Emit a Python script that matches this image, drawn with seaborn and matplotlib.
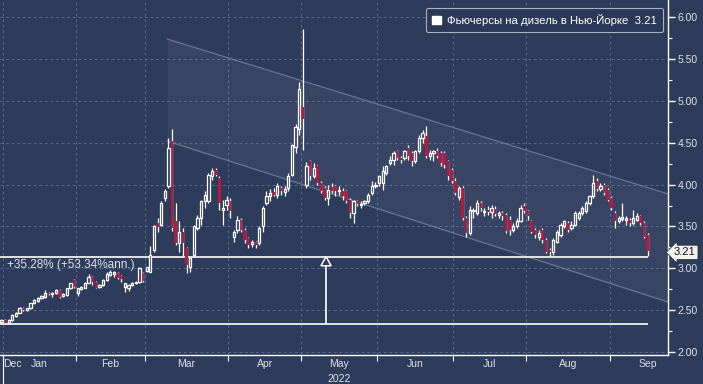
import numpy as np
import pandas as pd
import matplotlib
matplotlib.use("Agg")
import matplotlib.pyplot as plt
import matplotlib.transforms as mtrans
from matplotlib.patches import Patch
import seaborn as sns

# ---------------- data ----------------
holidays = ["2022-01-17", "2022-02-21", "2022-04-15", "2022-05-30",
            "2022-06-20", "2022-07-04", "2022-09-05"]
first_day = "2021-12-31"
last_day = "2022-09-16"

opens = [2.36,
         2.38, 2.34, 2.38, 2.43, 2.47, 2.53, 2.50, 2.52, 2.58, 2.61, 2.64, 2.66, 2.71, 2.69, 2.70, 2.74, 2.67, 2.68, 2.76, 2.86,
         2.70, 2.75, 2.77, 2.83, 2.90, 2.84, 2.78, 2.80, 2.86, 2.92, 2.93, 2.94, 2.91, 2.78, 2.77, 2.80, 2.82, 2.84, 2.94,
         2.97, 2.96, 3.22, 3.54, 3.52, 3.84, 3.98, 4.52, 3.56, 3.30, 3.44, 3.24, 3.02, 3.16, 3.48, 3.60, 3.80, 3.80, 4.10, 4.17, 4.08, 3.70, 3.76,
         3.80, 3.38, 3.46, 3.58, 3.46, 3.36, 3.29, 3.31, 3.30, 3.50, 3.78, 3.86, 3.91, 3.88, 3.96, 3.91, 3.96, 4.12, 4.45, 4.67,
         4.93, 4.00, 4.28, 4.10, 4.22, 4.02, 3.96, 3.84, 3.97, 3.98, 3.92, 3.92, 3.92, 3.82, 3.66, 3.80, 3.76, 3.78, 3.80, 3.90, 3.98,
         4.02, 4.02, 4.14, 4.26, 4.30, 4.40, 4.32, 4.32, 4.44, 4.38, 4.28, 4.40, 4.56, 4.58, 4.34, 4.38, 4.40, 4.38, 4.38, 4.28, 4.18,
         4.05, 3.85, 3.96, 3.60, 3.42, 3.68, 3.66, 3.78, 3.67, 3.70, 3.67, 3.71, 3.64, 3.66, 3.64, 3.58, 3.46, 3.51, 3.57, 3.74,
         3.68, 3.56, 3.46, 3.38, 3.46, 3.34, 3.22, 3.20, 3.32, 3.40, 3.50, 3.54, 3.48, 3.52, 3.60, 3.66, 3.68, 3.78, 3.86, 4.04, 3.95, 4.00, 3.94,
         3.84, 3.66, 3.56, 3.59, 3.58, 3.58, 3.54, 3.58, 3.62, 3.54, 3.40]
highs = [2.39,
         2.39, 2.39, 2.45, 2.48, 2.54, 2.54, 2.53, 2.59, 2.63, 2.66, 2.68, 2.74, 2.72, 2.72, 2.75, 2.75, 2.70, 2.77, 2.83, 2.87,
         2.77, 2.79, 2.84, 2.93, 2.91, 2.85, 2.81, 2.87, 2.95, 2.98, 2.97, 2.95, 2.92, 2.83, 2.81, 2.84, 2.85, 3.01, 2.95,
         3.02, 3.27, 3.52, 3.60, 3.80, 3.95, 4.56, 4.67, 3.78, 3.56, 3.48, 3.26, 3.14, 3.52, 3.64, 3.82, 3.92, 4.14, 4.20, 4.20, 4.10, 3.82, 3.86,
         3.84, 3.46, 3.62, 3.60, 3.48, 3.38, 3.34, 3.33, 3.50, 3.74, 3.92, 3.95, 3.96, 4.02, 3.98, 3.98, 4.14, 4.49, 4.72, 5.23,
         5.86, 4.27, 4.30, 4.26, 4.24, 4.04, 3.98, 4.00, 4.02, 4.00, 3.98, 3.96, 3.94, 3.84, 3.82, 3.82, 3.80, 3.82, 3.90, 4.04, 4.03,
         4.12, 4.22, 4.24, 4.34, 4.40, 4.42, 4.34, 4.42, 4.48, 4.40, 4.42, 4.60, 4.66, 4.70, 4.42, 4.42, 4.44, 4.40, 4.40, 4.30, 4.20,
         4.08, 3.98, 3.98, 3.62, 3.74, 3.72, 3.82, 3.80, 3.72, 3.74, 3.76, 3.74, 3.68, 3.68, 3.66, 3.62, 3.54, 3.60, 3.76, 3.78,
         3.70, 3.58, 3.48, 3.46, 3.48, 3.36, 3.24, 3.36, 3.46, 3.54, 3.58, 3.57, 3.56, 3.68, 3.68, 3.74, 3.80, 3.88, 4.12, 4.08, 4.02, 4.02, 3.96,
         3.86, 3.68, 3.62, 3.78, 3.62, 3.60, 3.70, 3.66, 3.64, 3.56, 3.42]
lows = [2.34,
        2.33, 2.33, 2.37, 2.42, 2.46, 2.49, 2.49, 2.51, 2.57, 2.60, 2.63, 2.65, 2.68, 2.66, 2.69, 2.65, 2.66, 2.67, 2.75, 2.76,
        2.67, 2.74, 2.76, 2.82, 2.80, 2.76, 2.77, 2.79, 2.85, 2.91, 2.90, 2.87, 2.84, 2.72, 2.73, 2.79, 2.81, 2.83, 2.84,
        2.95, 2.95, 3.20, 3.44, 3.50, 3.80, 3.96, 3.45, 3.28, 3.20, 3.15, 2.94, 2.96, 3.14, 3.46, 3.52, 3.72, 3.78, 4.06, 4.10, 3.70, 3.52, 3.70,
        3.60, 3.32, 3.42, 3.44, 3.30, 3.24, 3.26, 3.24, 3.28, 3.44, 3.76, 3.80, 3.86, 3.84, 3.88, 3.86, 3.92, 4.10, 4.38, 4.60,
        4.42, 3.96, 4.06, 4.08, 4.00, 3.90, 3.82, 3.76, 3.90, 3.86, 3.88, 3.82, 3.78, 3.60, 3.54, 3.74, 3.72, 3.76, 3.78, 3.88, 3.96,
        3.98, 3.94, 4.12, 4.24, 4.24, 4.30, 4.26, 4.30, 4.30, 4.22, 4.26, 4.38, 4.50, 4.32, 4.30, 4.28, 4.32, 4.22, 4.20, 4.06, 4.02,
        3.88, 3.82, 3.58, 3.38, 3.40, 3.60, 3.64, 3.68, 3.62, 3.64, 3.60, 3.62, 3.60, 3.58, 3.42, 3.40, 3.44, 3.48, 3.55, 3.66,
        3.58, 3.42, 3.36, 3.34, 3.30, 3.18, 3.15, 3.16, 3.30, 3.38, 3.48, 3.44, 3.46, 3.50, 3.58, 3.64, 3.66, 3.76, 3.84, 3.93, 3.92, 3.88, 3.80,
        3.70, 3.48, 3.54, 3.56, 3.52, 3.50, 3.52, 3.56, 3.52, 3.36, 3.15]
closes = [2.38,
          2.34, 2.38, 2.44, 2.47, 2.53, 2.50, 2.52, 2.58, 2.62, 2.65, 2.67, 2.71, 2.69, 2.71, 2.74, 2.66, 2.69, 2.76, 2.82, 2.78,
          2.76, 2.78, 2.83, 2.90, 2.84, 2.77, 2.80, 2.86, 2.93, 2.96, 2.96, 2.88, 2.87, 2.82, 2.80, 2.83, 2.84, 3.00, 2.85,
          3.01, 3.16, 3.50, 3.49, 3.78, 3.92, 4.44, 3.48, 3.30, 3.44, 3.30, 3.04, 3.12, 3.50, 3.60, 3.80, 3.88, 4.12, 4.16, 4.12, 3.78, 3.72, 3.82,
          3.68, 3.44, 3.58, 3.46, 3.34, 3.28, 3.31, 3.28, 3.48, 3.72, 3.86, 3.90, 3.88, 3.98, 3.92, 3.95, 4.10, 4.47, 4.69, 5.15,
          4.79, 4.22, 4.10, 4.20, 4.02, 3.92, 3.84, 3.94, 3.93, 3.92, 3.93, 3.86, 3.80, 3.66, 3.80, 3.77, 3.77, 3.80, 3.88, 3.98, 4.00,
          4.10, 4.16, 4.22, 4.30, 4.38, 4.32, 4.30, 4.40, 4.34, 4.28, 4.40, 4.56, 4.62, 4.34, 4.38, 4.40, 4.34, 4.26, 4.24, 4.10, 4.04,
          3.90, 3.96, 3.60, 3.42, 3.70, 3.70, 3.78, 3.72, 3.69, 3.67, 3.72, 3.65, 3.66, 3.62, 3.45, 3.46, 3.50, 3.56, 3.72, 3.68,
          3.62, 3.44, 3.40, 3.42, 3.34, 3.20, 3.19, 3.34, 3.44, 3.52, 3.56, 3.46, 3.52, 3.66, 3.66, 3.72, 3.78, 3.86, 4.02, 3.95, 3.99, 3.90, 3.82,
          3.72, 3.56, 3.60, 3.61, 3.60, 3.54, 3.60, 3.62, 3.54, 3.38, 3.21]

last_value = 3.21
legend_label = "Фьючерсы на дизель в Нью-Йорке  3.21"
annotation_text = "+35.28% (+53.34%ann.)"
base_level = 2.334      # lower reference line
top_level = 3.14        # upper reference line
arrow_pos = 89.4        # trading-day position of the arrow
channel_x = [45.6, 183.6]
channel_upper = [5.743, 3.889]
channel_lower = [4.523, 2.597]
month_names = ["Dec", "Jan", "Feb", "Mar", "Apr", "May", "Jun", "Jul", "Aug", "Sep"]
y_ticks = [2.0, 2.5, 3.0, 3.5, 4.0, 4.5, 5.0, 5.5, 6.0]
year_label = "2022"

# ---------------- style ----------------
BG = "#2e3c5c"
GRID = "#55658a"
TXT = "#dde1e8"
RED = "#b8183f"

sns.set_theme(style="dark", rc={"axes.facecolor": BG, "figure.facecolor": BG})
plt.rcParams["font.family"] = ["Liberation Sans", "DejaVu Sans"]

dates = pd.bdate_range(first_day, last_day, freq="C", holidays=holidays)
df = pd.DataFrame({"date": dates, "open": opens, "high": highs,
                   "low": lows, "close": closes})
df["pos"] = np.arange(len(df))
n = len(df)

fig = plt.figure(figsize=(7.03, 3.84), dpi=100)
ax = fig.add_axes([0.0, 29 / 384, 668 / 703, 1 - 29 / 384])
ax.set_facecolor(BG)

xmin, xmax = -0.4, 183.6
ax.set_xlim(xmin, xmax)
ax.set_ylim(1.963, 6.209)

# channel
ax.fill_between(channel_x, channel_upper, channel_lower, color="white",
                alpha=0.045, lw=0, zorder=1)
chan = pd.DataFrame({"x": channel_x * 2,
                     "y": channel_upper + channel_lower,
                     "line": ["up", "up", "low", "low"]})
sns.lineplot(data=chan, x="x", y="y", units="line", estimator=None,
             color="#7f89a0", lw=0.9, alpha=0.75, ax=ax, zorder=2)

# reference lines and arrow
ax.hlines([top_level, base_level], xmin, n - 1, color="white", lw=1.2, zorder=3)
ax.vlines(arrow_pos, base_level, top_level - 0.11, color="white", lw=1.2, zorder=3)
ax.fill([arrow_pos - 1.4, arrow_pos + 1.4, arrow_pos],
        [top_level - 0.11, top_level - 0.11, top_level],
        facecolor=BG, edgecolor="white", lw=1.1, zorder=4)
ax.annotate(annotation_text, xy=(0.01, top_level), xycoords=("axes fraction", "data"),
            xytext=(0, -8), textcoords="offset pixels", va="center", ha="left",
            color=TXT, fontsize=8.5, zorder=6)

# candles
up = df["close"] >= df["open"]
ax.vlines(df["pos"], df["low"], df["high"], color="white", lw=0.9, zorder=4)
body = np.maximum((df["close"] - df["open"]).abs(), 0.012)
bottom = np.minimum(df["open"], df["close"])
ax.bar(df["pos"][~up], body[~up], bottom=bottom[~up], width=0.72,
       color=RED, lw=0, zorder=5)
ax.bar(df["pos"][up], body[up], bottom=bottom[up], width=0.62,
       facecolor=BG, edgecolor="white", lw=0.9, zorder=5)

# x axis: month boundaries and labels
month_change = np.where(df["date"].dt.month.values[1:] != df["date"].dt.month.values[:-1])[0] + 1
bounds = month_change - 0.5
centers = []
for b, i in zip(bounds, month_change):
    d0 = df["date"].iloc[i]
    m0 = np.datetime64(d0.strftime("%Y-%m-01"))
    m1 = np.datetime64((d0 + pd.offsets.MonthBegin(1)).strftime("%Y-%m-01"))
    full = np.busday_count(m0, m1, holidays=holidays)
    centers.append(b + full / 2)
ax.set_xticks(bounds)
ax.set_xticklabels([])
ax.set_xticks(centers, minor=True)
ax.set_xticklabels(month_names[1:], minor=True)
ax.tick_params(axis="x", which="major", direction="out", length=4, color="white",
               width=0.8, bottom=True)
ax.tick_params(axis="x", which="minor", length=0, pad=3, labelsize=7.5,
               labelcolor=TXT)
ax.text(0.004, -0.025, month_names[0], transform=ax.transAxes, ha="left",
        va="center", fontsize=7.5, color=TXT)
may_center = centers[month_names[1:].index("May")]
ax.text(may_center, -0.068, year_label, transform=mtrans.blended_transform_factory(
    ax.transData, ax.transAxes), ha="center", va="center", fontsize=7.5, color=TXT)
ax.plot([bounds[0], bounds[0]], [0, -0.09], color="white", lw=0.8,
        transform=mtrans.blended_transform_factory(ax.transData, ax.transAxes),
        clip_on=False)

# y axis
ax.yaxis.tick_right()
ax.set_yticks(y_ticks)
ax.set_yticklabels([f"{v:.2f}" for v in y_ticks])
ax.set_yticks(np.arange(2.25, 6.0, 0.5), minor=True)
ax.tick_params(axis="y", which="major", direction="out", length=5, width=1.0,
               color="white", labelsize=7.5, labelcolor=TXT, pad=2, right=True)
ax.tick_params(axis="y", which="minor", direction="out", length=3, width=0.8,
               color="white", right=True)

ax.grid(True, which="major", color=GRID, ls=(0, (2.5, 2.5)), lw=0.8)
ax.set_axisbelow(True)
for s in ["left", "top"]:
    ax.spines[s].set_visible(False)
for s in ["right", "bottom"]:
    ax.spines[s].set_visible(True)
    ax.spines[s].set_color("white")
    ax.spines[s].set_linewidth(1.0)
ax.set_xlabel("")
ax.set_ylabel("")

# last value tag
ax.annotate(f"{last_value:.2f}", xy=(1.0, last_value - 0.02),
            xycoords=("axes fraction", "data"), xytext=(6, 0),
            textcoords="offset pixels", ha="left", va="center", fontsize=8,
            color="#111111", annotation_clip=False,
            bbox=dict(boxstyle="larrow,pad=0.2", fc="#f2f2f2", ec="#222222", lw=0.5))

# legend
handle = Patch(facecolor="white", edgecolor="white")
leg = ax.legend([handle], [legend_label], loc="upper right",
                bbox_to_anchor=(0.9925, 0.978), borderaxespad=0, fontsize=8.2,
                frameon=True, fancybox=True, handlelength=0.8, handleheight=0.8,
                handletextpad=0.5, borderpad=0.55, labelcolor="white")
leg.get_frame().set_facecolor("#2b3857")
leg.get_frame().set_edgecolor("#a9b0c0")
leg.get_frame().set_linewidth(0.8)
leg.get_frame().set_alpha(1)
leg.set_zorder(10)

fig.savefig("out.png", dpi=100, facecolor=BG)
